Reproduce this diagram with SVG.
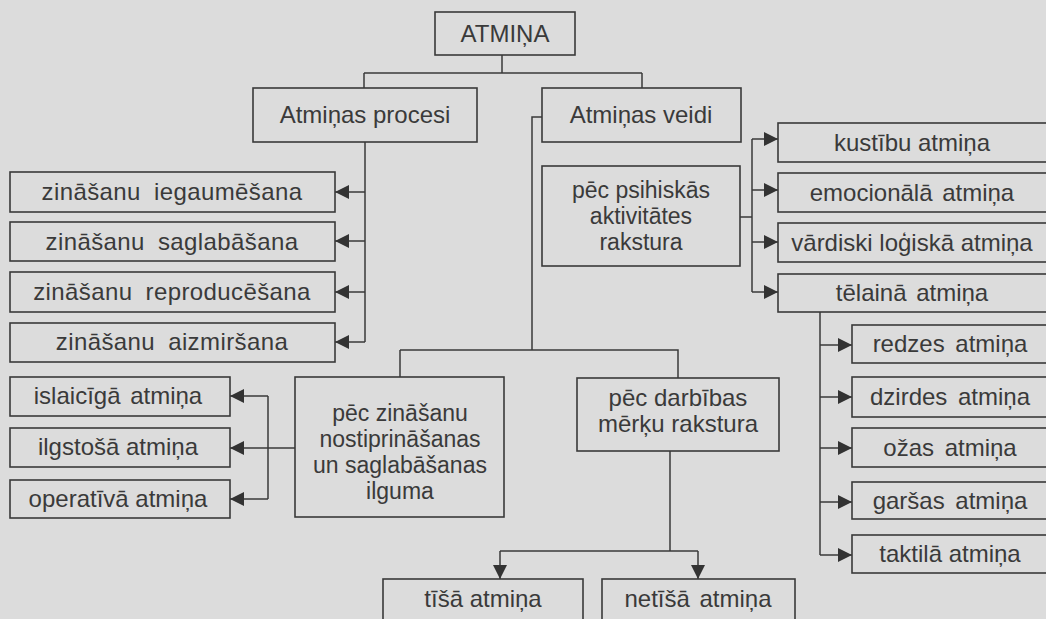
<svg xmlns="http://www.w3.org/2000/svg" width="1046" height="619" viewBox="0 0 1046 619">
<style>
.b{fill:none;stroke:#3a3a3a;stroke-width:1.6}
.t{font-family:"Liberation Sans",Arial,sans-serif;font-size:24px;fill:#3a3a3a;text-anchor:middle}
.m{font-size:23px}
.c{fill:none;stroke:#3a3a3a;stroke-width:1.5}
.a{marker-end:url(#ah)}
</style>
<defs>
<marker id="ah" viewBox="0 0 14 14" refX="14" refY="7" markerWidth="14" markerHeight="14" orient="auto" markerUnits="userSpaceOnUse">
<path d="M0,0 L14,7 L0,14 z" fill="#333"/>
</marker>
</defs>
<rect x="0" y="0" width="1046" height="619" fill="#dcdcdc"/>
<g id="connectors">
<path class="c" d="M502,55 V73 M364,73 H642 M364,73 V88 M642,73 V88"/>
<path class="c" d="M365,142 V342"/>
<path class="c a" d="M365,192 H335"/>
<path class="c a" d="M365,241 H335"/>
<path class="c a" d="M365,292 H335"/>
<path class="c a" d="M365,342 H335"/>
<path class="c" d="M542,117 H532 V350 M400,350 H678 V378 M400,350 V377"/>
<path class="c" d="M740,217 H752 M752,139 V292"/>
<path class="c a" d="M752,139 H778"/>
<path class="c a" d="M752,190 H778"/>
<path class="c a" d="M752,242 H778"/>
<path class="c a" d="M752,292 H778"/>
<path class="c" d="M820,312 V555"/>
<path class="c a" d="M820,345 H852"/>
<path class="c a" d="M820,397 H852"/>
<path class="c a" d="M820,448 H852"/>
<path class="c a" d="M820,502 H852"/>
<path class="c a" d="M820,555 H852"/>
<path class="c" d="M670,451 V551 M500,551 H698"/>
<path class="c a" d="M500,551 V579"/>
<path class="c a" d="M698,551 V579"/>
<path class="c" d="M295,448 H268 M268,396 V499"/>
<path class="c a" d="M268,396 H230"/>
<path class="c a" d="M268,448 H230"/>
<path class="c a" d="M268,499 H230"/>
</g>
<g id="n-atmina"><rect class="b" x="435" y="12" width="140" height="43"/><text class="t" x="505" y="42">ATMIŅA</text></g>
<g id="n-procesi"><rect class="b" x="253" y="88" width="224" height="54"/><text class="t" x="365" y="123">Atmiņas procesi</text></g>
<g id="n-veidi"><rect class="b" x="542" y="88" width="199" height="54"/><text class="t" x="641" y="123">Atmiņas veidi</text></g>
<g id="n-iegaum"><rect class="b" x="10" y="172" width="325" height="40"/><text class="t" x="172" y="200" word-spacing="6" letter-spacing="0.4">zināšanu iegaumēšana</text></g>
<g id="n-saglab"><rect class="b" x="10" y="222" width="325" height="39"/><text class="t" x="172" y="250" word-spacing="6" letter-spacing="0.4">zināšanu saglabāšana</text></g>
<g id="n-reprod"><rect class="b" x="10" y="272" width="325" height="40"/><text class="t" x="172" y="300" word-spacing="6" letter-spacing="0.4">zināšanu reproducēšana</text></g>
<g id="n-aizmirs"><rect class="b" x="10" y="323" width="325" height="39"/><text class="t" x="172" y="350" word-spacing="6" letter-spacing="0.4">zināšanu aizmiršana</text></g>
<g id="n-psih"><rect class="b" x="542" y="166" width="198" height="100"/><text class="t m" x="641" y="198">pēc psihiskās</text><text class="t m" x="641" y="224">aktivitātes</text><text class="t m" x="641" y="250">rakstura</text></g>
<g id="n-kust"><rect class="b" x="778" y="123" width="272" height="39"/><text class="t" x="912" y="151">kustību atmiņa</text></g>
<g id="n-emoc"><rect class="b" x="778" y="173" width="272" height="39"/><text class="t" x="912" y="201" word-spacing="3">emocionālā atmiņa</text></g>
<g id="n-vard"><rect class="b" x="778" y="223" width="272" height="39"/><text class="t" x="912" y="251">vārdiski loģiskā atmiņa</text></g>
<g id="n-telain"><rect class="b" x="778" y="274" width="272" height="38"/><text class="t" x="912" y="301" word-spacing="3">tēlainā atmiņa</text></g>
<g id="n-redz"><rect class="b" x="852" y="325" width="198" height="38"/><text class="t" x="950" y="352" word-spacing="4">redzes atmiņa</text></g>
<g id="n-dzird"><rect class="b" x="852" y="377" width="198" height="40"/><text class="t" x="950" y="405" word-spacing="4">dzirdes atmiņa</text></g>
<g id="n-ozas"><rect class="b" x="852" y="428" width="198" height="39"/><text class="t" x="950" y="456" word-spacing="4">ožas atmiņa</text></g>
<g id="n-garsas"><rect class="b" x="852" y="482" width="198" height="37"/><text class="t" x="950" y="509" word-spacing="4">garšas atmiņa</text></g>
<g id="n-takt"><rect class="b" x="852" y="535" width="198" height="38"/><text class="t" x="950" y="562">taktilā atmiņa</text></g>
<g id="n-darb"><rect class="b" x="577" y="378" width="202" height="73"/><text class="t" x="678" y="406">pēc darbības</text><text class="t" x="678" y="432">mērķu rakstura</text></g>
<g id="n-zin"><rect class="b" x="295" y="377" width="209" height="140"/><text class="t m" x="400" y="421">pēc zināšanu</text><text class="t m" x="400" y="447">nostiprināšanas</text><text class="t m" x="400" y="473">un saglabāšanas</text><text class="t m" x="400" y="499">ilguma</text></g>
<g id="n-islaic"><rect class="b" x="10" y="377" width="220" height="39"/><text class="t" x="118" y="404" word-spacing="3">islaicīgā atmiņa</text></g>
<g id="n-ilgst"><rect class="b" x="10" y="428" width="220" height="39"/><text class="t" x="118" y="455">ilgstošā atmiņa</text></g>
<g id="n-operat"><rect class="b" x="10" y="480" width="220" height="38"/><text class="t" x="118" y="507">operatīvā atmiņa</text></g>
<g id="n-tisa"><rect class="b" x="383" y="579" width="200" height="50"/><text class="t" x="483" y="607">tīšā atmiņa</text></g>
<g id="n-netisa"><rect class="b" x="602" y="579" width="193" height="50"/><text class="t" x="698" y="607" word-spacing="3">netīšā atmiņa</text></g>
</svg>
